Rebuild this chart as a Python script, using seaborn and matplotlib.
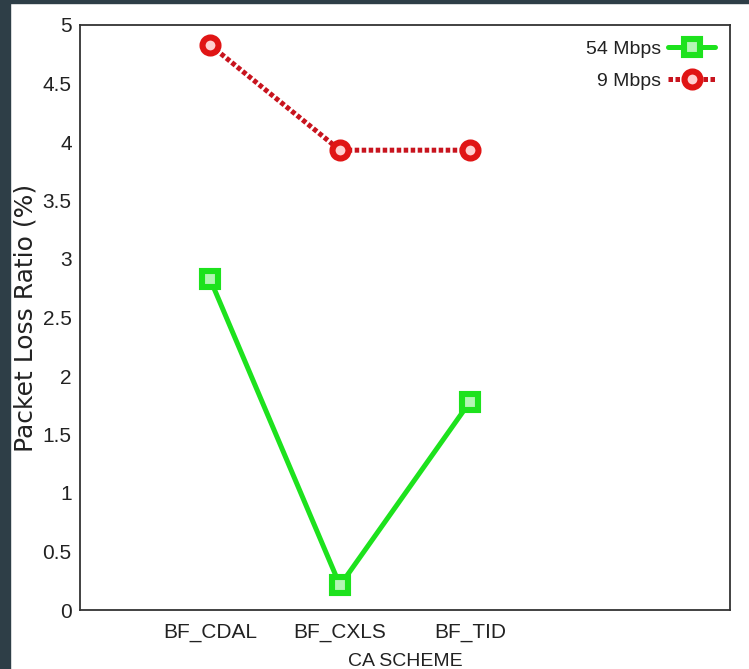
import matplotlib
matplotlib.use("Agg")
import matplotlib.pyplot as plt
import seaborn as sns
import pandas as pd
from matplotlib.patches import Rectangle

# ---- data ----
schemes = ["BF_CDAL", "BF_CXLS", "BF_TID"]
loss_54 = [2.83, 0.21, 1.78]
loss_9 = [4.83, 3.93, 3.93]
series_names = ["54 Mbps", "9 Mbps"]
y_ticks = [0, 0.5, 1, 1.5, 2, 2.5, 3, 3.5, 4, 4.5, 5]
y_tick_labels = ["0", "0.5", "1", "1.5", "2", "2.5", "3", "3.5", "4", "4.5", "5"]
x_label = "CA SCHEME"
y_label = "Packet Loss Ratio (%)"

df = pd.DataFrame({
    "scheme": schemes * 2,
    "loss": loss_54 + loss_9,
    "series": [series_names[0]] * 3 + [series_names[1]] * 3,
})

sns.set_theme(style="white")
plt.rcParams["font.family"] = ["Liberation Sans", "DejaVu Sans"]

fig = plt.figure(figsize=(7.49, 6.69), dpi=100)
fig.patch.set_facecolor("white")
ax = fig.add_axes([80 / 749, 1 - 610 / 669, 650 / 749, 585 / 669])

green = "#1de21d"
red = "#e01515"
dark_red = "#c8141e"

sns.lineplot(data=df[df.series == series_names[0]], x="scheme", y="loss",
             ax=ax, color=green, lw=3.6, marker="s", ms=11.5,
             markerfacecolor="#b4f5b4", markeredgecolor=green, mew=4.4,
             label=series_names[0], sort=False)
sns.lineplot(data=df[df.series == series_names[1]], x="scheme", y="loss",
             ax=ax, color=dark_red, lw=3.6, marker="o", ms=11.5,
             markerfacecolor="#ffd0d0", markeredgecolor=red, mew=4.4,
             label=series_names[1], sort=False)
ax.lines[1].set_dashes((0.9, 0.5))
ax.lines[1].set_dash_capstyle("butt")

ax.set_xlim(-1, 4)
ax.set_ylim(0, 5)
ax.set_yticks(y_ticks)
ax.set_yticklabels(y_tick_labels)

for s in ax.spines.values():
    s.set_color("#333333")
    s.set_linewidth(1.3)

ax.tick_params(axis="both", direction="in", length=6, width=1, color="#333333",
               labelsize=15, labelcolor="#222222")
ax.tick_params(axis="y", pad=6)
ax.tick_params(axis="x", pad=9)

ax.set_xlabel(x_label, fontsize=14, color="#222222", va="top")
ax.xaxis.set_label_coords(0.5, -0.074)
ax.set_ylabel(y_label, fontsize=18, color="#222222", family="DejaVu Sans", va="center")
ax.yaxis.set_label_coords(-0.084, 0.5)

leg = ax.legend(loc="upper right", frameon=False, markerfirst=False,
                fontsize=14, handlelength=2.4, labelspacing=0.75,
                bbox_to_anchor=(1.004, 1.004), handletextpad=0.4)
for t in leg.get_texts():
    t.set_color("#222222")

# dark frame strips of the screenshot
fig.add_artist(Rectangle((0, 0), 10 / 749, 1, transform=fig.transFigure,
                         color="#2e3e47", zorder=10))
fig.add_artist(Rectangle((0, 1 - 3 / 669), 1, 3 / 669, transform=fig.transFigure,
                         color="#2e3e47", zorder=10))

fig.savefig("out.png", dpi=100)
